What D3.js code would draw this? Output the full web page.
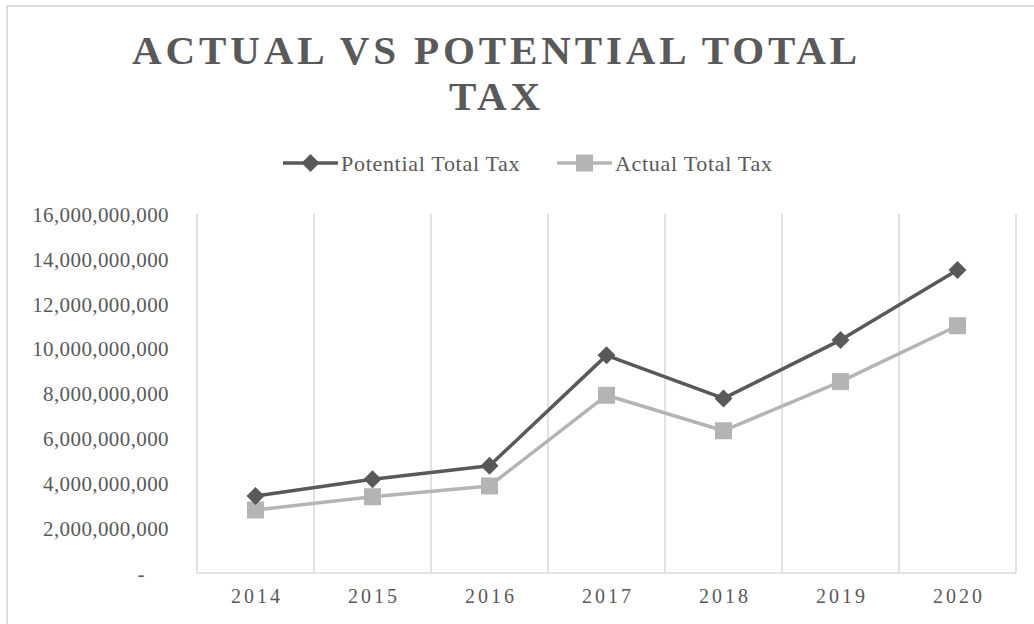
<!DOCTYPE html>
<html>
<head>
<meta charset="utf-8">
<script src="https://cdn.jsdelivr.net/npm/d3@7"></script>
<style>
  html, body { margin: 0; padding: 0; background: #fff; }
  svg { display: block; font-family: "Liberation Serif", "DejaVu Serif", serif; }
</style>
</head>
<body>
<svg id="chart" width="1034" height="624"></svg>
<script>
const years = ["2014", "2015", "2016", "2017", "2018", "2019", "2020"];
const potentialTotalTax = [3430000000, 4180000000, 4780000000, 9700000000, 7780000000, 10380000000, 13500000000];
const actualTotalTax = [2810000000, 3400000000, 3880000000, 7920000000, 6340000000, 8530000000, 11020000000];
const yTicks = [0, 2000000000, 4000000000, 6000000000, 8000000000, 10000000000, 12000000000, 14000000000, 16000000000];
const seriesNames = ["Potential Total Tax", "Actual Total Tax"];
const titleLines = ["ACTUAL VS POTENTIAL TOTAL", "TAX"];

const svg = d3.select("#chart");
const textColor = "#595959";
const gridColor = "#d9d9d9";
const colors = ["#595959", "#b4b4b4"];

// chart border
svg.append("rect").attr("x", 7).attr("y", 6).attr("width", 1040).attr("height", 640)
  .attr("fill", "#fff").attr("stroke", gridColor).attr("stroke-width", 1.8);

const x = d3.scaleBand().domain(years).range([197, 1016]).padding(0);
const y = d3.scaleLinear().domain([0, 16000000000]).range([573, 214]);

// vertical gridlines at category boundaries
const bounds = years.map(d => x(d)).concat([x(years[years.length - 1]) + x.bandwidth()]);
svg.append("g").selectAll("line").data(bounds).join("line")
  .attr("x1", d => d).attr("x2", d => d)
  .attr("y1", y(16000000000)).attr("y2", y(0))
  .attr("stroke", gridColor).attr("stroke-width", 1.5);
// bottom axis line
svg.append("line").attr("x1", x.range()[0]).attr("x2", x.range()[1])
  .attr("y1", y(0)).attr("y2", y(0)).attr("stroke", gridColor).attr("stroke-width", 1.5);

// y axis labels
const fmt = d3.format(",");
const yAxis = d3.axisLeft(y).tickValues(yTicks).tickSize(0).tickPadding(0)
  .tickFormat(d => d === 0 ? "-" : fmt(d));
const yG = svg.append("g").attr("transform", "translate(169,0)").call(yAxis);
yG.select(".domain").remove();
yG.selectAll("text").attr("fill", textColor).style("font-size", "21px")
  .style("letter-spacing", "0.4px")
  .style("font-family", "'Liberation Serif', serif").attr("dy", "0.35em")
  .attr("dx", d => d === 0 ? -24 : 0);

// x axis labels
const xAxis = d3.axisBottom(x).tickSize(0).tickPadding(0);
const xG = svg.append("g").attr("transform", "translate(1.5,589)").call(xAxis);
xG.select(".domain").remove();
xG.selectAll("text").attr("fill", textColor).style("font-size", "20px")
  .style("letter-spacing", "3px")
  .style("font-family", "'Liberation Serif', serif").attr("dy", "0.71em");

const cx = d => x(d) + x.bandwidth() / 2;
const line = d3.line().x(d => cx(d.year)).y(d => y(d.value));

const data = [potentialTotalTax, actualTotalTax].map((vals, i) =>
  years.map((yr, j) => ({ year: yr, value: vals[j] })));

const diamond = (g, px, py, fill) => g.append("path")
  .attr("d", `M${px},${py - 9}L${px + 9},${py}L${px},${py + 9}L${px - 9},${py}Z`).attr("fill", fill);
const square = (g, px, py, fill) => g.append("rect")
  .attr("x", px - 8.5).attr("y", py - 8.5).attr("width", 17).attr("height", 17).attr("fill", fill);
const markers = [diamond, square];

// draw actual first then potential on top
[1, 0].forEach(i => {
  const g = svg.append("g");
  g.append("path").datum(data[i]).attr("d", line).attr("fill", "none")
    .attr("stroke", colors[i]).attr("stroke-width", 3.5).attr("stroke-linejoin", "round");
  data[i].forEach(d => markers[i](g, cx(d.year), y(d.value), colors[i]));
});

// title
svg.append("g").selectAll("text").data(titleLines).join("text")
  .attr("x", 496.5).attr("y", (d, i) => 63.5 + i * 46.5)
  .attr("text-anchor", "middle").attr("fill", textColor)
  .style("font-size", "41px").style("font-weight", "bold").style("letter-spacing", "3.9px")
  .text(d => d);

// legend
const legendItems = [{ x1: 283, x2: 338 }, { x1: 557, x2: 612 }];
legendItems.forEach((it, i) => {
  const g = svg.append("g");
  g.append("line").attr("x1", it.x1).attr("x2", it.x2).attr("y1", 163).attr("y2", 163)
    .attr("stroke", colors[i]).attr("stroke-width", 3.5);
  markers[i](g, (it.x1 + it.x2) / 2, 163, colors[i]);
  g.append("text").attr("x", it.x2 + 3).attr("y", 163).attr("dy", "0.35em")
    .attr("fill", textColor).style("font-size", "22px").style("letter-spacing", "0.7px")
    .text(seriesNames[i]);
});
</script>
</body>
</html>
